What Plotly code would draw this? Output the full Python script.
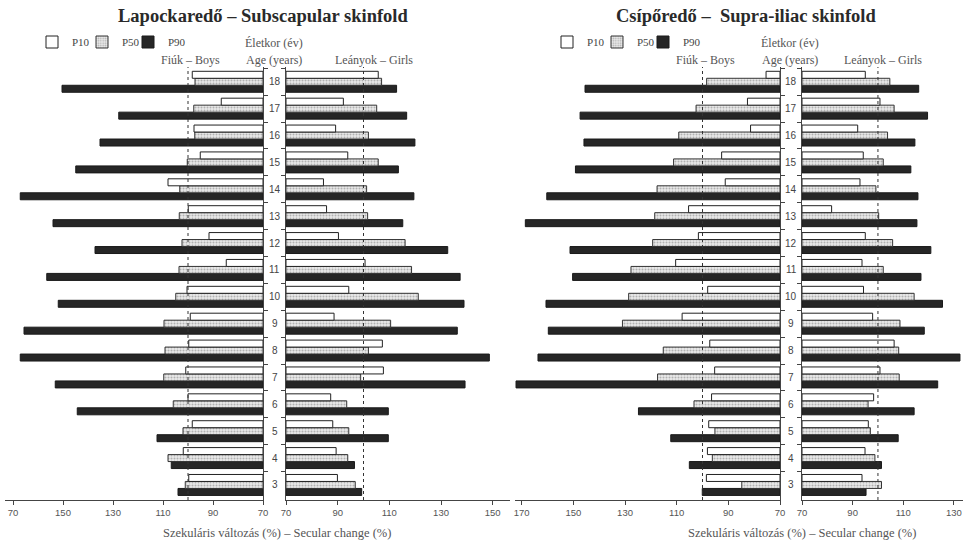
import plotly.graph_objects as go

# ---------------- data ----------------
ages = [3, 4, 5, 6, 7, 8, 9, 10, 11, 12, 13, 14, 15, 16, 17, 18]
series_names = ["P10", "P50", "P90"]

# Left panel: Lapockaredő – Subscapular skinfold
sub_boys_p10 = [99.7, 101.9, 98.3, 100.0, 100.9, 99.7, 99.1, 100.4, 84.7, 91.6, 99.9, 108.0, 95.1, 97.6, 86.7, 98.3]
sub_boys_p50 = [101.1, 108.0, 102.0, 105.9, 109.7, 109.2, 109.6, 104.9, 103.6, 102.4, 103.5, 103.3, 100.3, 97.3, 97.7, 97.2]
sub_boys_p90 = [104.0, 106.7, 112.4, 144.3, 153.1, 167.1, 165.6, 151.9, 156.5, 137.2, 154.0, 167.1, 144.9, 135.2, 127.7, 150.4]
sub_girls_p10 = [89.9, 89.4, 88.1, 87.3, 107.7, 107.3, 88.6, 94.3, 100.6, 90.3, 85.7, 84.5, 93.9, 89.2, 92.2, 105.7]
sub_girls_p50 = [96.8, 93.9, 94.3, 93.5, 98.9, 101.9, 110.5, 121.2, 118.6, 116.1, 101.6, 101.2, 105.7, 101.9, 105.1, 107.0]
sub_girls_p90 = [99.3, 96.5, 109.6, 109.6, 139.3, 148.7, 136.3, 138.9, 137.4, 132.6, 115.2, 119.5, 113.5, 119.9, 116.7, 112.8]

# Right panel: Csípőredő – Supra-iliac skinfold
sup_boys_p10 = [98.5, 98.1, 97.6, 96.5, 95.3, 97.2, 107.9, 98.0, 110.4, 101.6, 105.4, 91.2, 92.6, 81.4, 82.6, 75.4]
sup_boys_p50 = [84.8, 96.2, 95.2, 103.3, 117.4, 115.2, 131.0, 128.6, 127.7, 119.3, 118.5, 117.6, 111.2, 109.2, 102.5, 98.4]
sup_boys_p90 = [100.1, 105.1, 112.3, 124.8, 172.2, 163.7, 159.7, 160.6, 150.3, 151.3, 168.6, 160.3, 149.2, 145.9, 147.4, 145.5]
sup_girls_p10 = [93.7, 94.9, 96.2, 98.3, 100.8, 106.4, 97.9, 94.3, 93.7, 95.0, 81.7, 92.9, 94.2, 92.0, 100.8, 95.0]
sup_girls_p50 = [101.4, 98.8, 97.0, 96.1, 108.4, 108.2, 108.7, 114.3, 102.1, 105.8, 100.3, 99.2, 102.1, 103.8, 106.4, 104.7]
sup_girls_p90 = [95.3, 101.4, 108.0, 114.3, 123.6, 132.4, 118.3, 125.5, 117.0, 120.9, 115.4, 115.8, 113.0, 114.6, 119.6, 116.1]

base_value = 70
reference_value = 100

lb_tickvals = [70, 90, 110, 130, 150, 170]
lb_ticktext = ["70", "90", "110", "130", "150", "70"]
lg_tickvals = [70, 90, 110, 130, 150]
rb_tickvals = [70, 90, 110, 130, 150, 170]
rg_tickvals = [70, 90, 110, 130]

title_left = "<b>Lapockaredő – Subscapular skinfold</b>"
title_right = "<b>Csípőredő –  Supra-iliac skinfold</b>"
xaxis_title = "Szekuláris változás (%) – Secular change (%)"
age_title_1 = "Életkor (év)"
age_title_2 = "Age (years)"
boys_label = "Fiúk – Boys"
girls_label = "Leányok – Girls"

# ---------------- layout geometry ----------------
W, H = 964, 550
def px(v):
    return v / W
def py(v):
    return 1 - v / H

Y_TOP, Y_BOT = 67, 500
ydom = [py(Y_BOT), py(Y_TOP)]
yrange = [2.44, 18.55]

axes = {
    "LB": dict(dom=[5, 263], rng=[173.2, 70]),
    "LG": dict(dom=[286, 510], rng=[70, 156.7]),
    "RB": dict(dom=[515, 780], rng=[172.6, 70]),
    "RG": dict(dom=[802, 963], rng=[70, 133.6]),
}

SERIF = "Liberation Serif, DejaVu Serif, serif"
SANS = "Liberation Sans, Arial, sans-serif"

styles = {
    "P10": dict(marker=dict(color="#ffffff", line=dict(color="#222", width=1))),
    "P50": dict(marker=dict(color="#e6e6e6", line=dict(color="#333", width=1),
                            pattern=dict(shape=".", fgcolor="#7a7a7a", bgcolor="#e9e9e9",
                                         size=3, solidity=0.35))),
    "P90": dict(marker=dict(color="#262626", line=dict(color="#1a1a1a", width=1))),
}

# one legend per item so each can be placed like the picture's key
legend_ids = {
    ("L", "P10"): "legend", ("L", "P50"): "legend2", ("L", "P90"): "legend3",
    ("R", "P10"): "legend4", ("R", "P50"): "legend5", ("R", "P90"): "legend6",
}
legend_text_x = {
    ("L", "P10"): 72, ("L", "P50"): 122, ("L", "P90"): 168,
    ("R", "P10"): 587, ("R", "P50"): 637, ("R", "P90"): 683,
}

fig = go.Figure()

panels = [
    ("L", "x", "y", {"P10": sub_boys_p10, "P50": sub_boys_p50, "P90": sub_boys_p90}, True),
    ("L", "x2", "y2", {"P10": sub_girls_p10, "P50": sub_girls_p50, "P90": sub_girls_p90}, False),
    ("R", "x3", "y3", {"P10": sup_boys_p10, "P50": sup_boys_p50, "P90": sup_boys_p90}, True),
    ("R", "x4", "y4", {"P10": sup_girls_p10, "P50": sup_girls_p50, "P90": sup_girls_p90}, False),
]

for panel, xa, ya, data, show in panels:
    for name in ["P90", "P50", "P10"]:
        vals = data[name]
        fig.add_trace(go.Bar(
            y=ages, x=[v - base_value for v in vals], base=base_value,
            orientation="h", name=name, xaxis=xa, yaxis=ya,
            legend=legend_ids[(panel, name)], showlegend=show,
            hoverinfo="skip", **styles[name]))

def xaxis_cfg(key, tickvals, ticktext=None, anchor="y"):
    a = axes[key]
    cfg = dict(domain=[px(a["dom"][0]), px(a["dom"][1])], range=a["rng"], anchor=anchor,
               showline=True, linecolor="#444", linewidth=1, ticks="outside", ticklen=4,
               tickcolor="#444", tickvals=tickvals, showgrid=False, zeroline=False,
               automargin=False,
               tickfont=dict(family=SANS, size=9.5, color="#555"), fixedrange=True)
    if ticktext is not None:
        cfg["ticktext"] = ticktext
    return cfg

def yaxis_cfg(anchor, side, matches=None):
    cfg = dict(domain=ydom, range=yrange, anchor=anchor, side=side,
               showline=True, linecolor="#444", linewidth=1, ticks="outside", ticklen=4,
               tickcolor="#444", tickvals=[a + 0.5 for a in ages], showticklabels=False,
               showgrid=False, zeroline=False, fixedrange=True, automargin=False)
    if matches:
        cfg["matches"] = matches
    return cfg

shapes = []
for xr in ["x", "x2", "x3", "x4"]:
    shapes.append(dict(type="line", xref=xr, yref="paper", x0=reference_value, x1=reference_value,
                       y0=ydom[0], y1=ydom[1], line=dict(color="#333", width=1, dash="3px,3px"),
                       layer="above"))

annotations = []
for key_b, key_g in [("LB", "LG"), ("RB", "RG")]:
    cx = px((axes[key_b]["dom"][1] + axes[key_g]["dom"][0]) / 2)
    for a in ages:
        annotations.append(dict(x=cx, y=a, xref="paper", yref="y", text=str(a), showarrow=False,
                                font=dict(family=SANS, size=10, color="#444"),
                                xanchor="center", yanchor="middle"))

def txt(x, y, text, size=12, family=SERIF, color="#555"):
    annotations.append(dict(x=px(x), y=py(y), xref="paper", yref="paper", text=text,
                            showarrow=False, font=dict(family=family, size=size, color=color),
                            xanchor="center", yanchor="middle"))

txt(263, 16, title_left, size=18.5, color="#2a2a2a")
txt(746, 16, title_right, size=18.5, color="#2a2a2a")
txt(274, 43, age_title_1)
txt(274, 60, age_title_2)
txt(190, 60, boys_label)
txt(374, 60, girls_label)
txt(790, 43, age_title_1)
txt(790, 60, age_title_2)
txt(705, 60, boys_label)
txt(883, 60, girls_label)
txt(277, 533, xaxis_title, size=12.5)
txt(802, 533, xaxis_title, size=12.5)

legends = {}
for key, lid in legend_ids.items():
    legends[lid] = dict(orientation="h", yanchor="middle", xanchor="left",
                        x=px(legend_text_x[key] - 40), y=py(42),
                        font=dict(family=SERIF, size=11, color="#444"),
                        bgcolor="rgba(0,0,0,0)", itemwidth=30, borderwidth=0,
                        itemclick=False, itemdoubleclick=False)

fig.update_layout(
    width=W, height=H, margin=dict(l=0, r=0, t=0, b=0, autoexpand=False),
    paper_bgcolor="white", plot_bgcolor="rgba(0,0,0,0)",
    barmode="group", bargap=0.22, bargroupgap=0.0,
    xaxis=xaxis_cfg("LB", lb_tickvals, lb_ticktext, anchor="y"),
    xaxis2=xaxis_cfg("LG", lg_tickvals, anchor="y2"),
    xaxis3=xaxis_cfg("RB", rb_tickvals, anchor="y3"),
    xaxis4=xaxis_cfg("RG", rg_tickvals, anchor="y4"),
    yaxis=yaxis_cfg("x", "right"),
    yaxis2=yaxis_cfg("x2", "left", matches="y"),
    yaxis3=yaxis_cfg("x3", "right", matches="y"),
    yaxis4=yaxis_cfg("x4", "left", matches="y"),
    shapes=shapes, annotations=annotations,
    showlegend=True,
    **legends,
)

# remove the browser's default page margin so the figure sits at the window's corner
fig.write_html("out.html",
               config={"displayModeBar": False},
               post_script="document.body.style.margin='0';document.body.style.overflow='hidden';")
